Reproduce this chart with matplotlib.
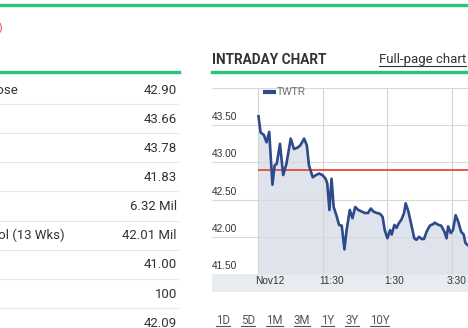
import matplotlib
matplotlib.use('Agg')
import matplotlib.pyplot as plt
from matplotlib.lines import Line2D

# quote table
row_labels = ['Prev Close', '', '', '', '', 'Avg Vol (13 Wks)', '', '', '']
row_values = ['42.90', '43.66', '43.78', '41.83', '6.32 Mil', '42.01 Mil', '41.00', '100', '42.09']

# intraday prices, minutes after 9:30
minutes = [0, 4, 10, 15, 20, 26, 30, 34, 40, 46, 52, 60, 66, 73, 78, 85, 90, 94, 101, 107,
           113, 119, 125, 128, 132, 136, 140, 145, 150, 155, 160, 164, 170, 175, 180, 186,
           192, 198, 204, 209, 214, 220, 226, 231, 235, 240, 245, 248, 253, 257, 261, 266,
           271, 274, 279, 284, 290, 294, 299, 304, 308, 313, 319, 325, 328, 335, 340, 346,
           350, 353, 358, 362, 367, 372, 377, 382, 385, 389]
prices = [43.62, 43.40, 43.37, 43.27, 43.41, 42.70, 42.96, 42.98, 43.25, 42.83, 42.98, 43.32,
          43.18, 43.20, 43.23, 43.32, 43.23, 42.96, 42.80, 42.83, 42.85, 42.83, 42.78, 42.72,
          42.36, 42.78, 42.40, 42.29, 42.16, 42.15, 41.83, 42.09, 42.36, 42.25, 42.40, 42.36,
          42.34, 42.32, 42.32, 42.38, 42.34, 42.32, 42.31, 42.27, 42.09, 41.98, 42.09, 42.03,
          42.16, 42.12, 42.18, 42.23, 42.32, 42.45, 42.34, 42.18, 41.98, 41.96, 42.00, 41.97,
          41.97, 42.07, 42.15, 42.17, 42.19, 42.16, 42.15, 42.07, 41.98, 42.14, 42.05, 42.09,
          42.29, 42.20, 42.07, 42.03, 41.92, 41.89]
prev_close = 42.90
symbol = 'TWTR'

y_ticks = [41.5, 42.0, 42.5, 43.0, 43.5]
grid_levels = [42.0, 42.5, 43.0, 43.5, 44.0]
x_ticks = [0, 120, 240, 360]
x_labels = ['Nov12', '11:30', '1:30', '3:30']
ranges = ['1D', '5D', '1M', '3M', '1Y', '3Y', '10Y']

W, H = 468, 328
GREEN = '#27c47a'
TEXT = '#333333'


def px(x, y):
    return x / W, 1 - y / H


fig = plt.figure(figsize=(W / 100, H / 100), dpi=100)
fig.patch.set_facecolor('white')

# green rules
for x0, x1, y in [(0, W, 5), (0, 179, 72), (212, W, 72)]:
    fig.add_artist(Line2D([x0 / W, x1 / W], [1 - y / H] * 2, color=GREEN, lw=2.4))

fig.text(*px(2, 28), ')', color='#e03a3a', fontsize=7.5, ha='right', va='center', family='Roboto')

# quote table
for i, (lab, val) in enumerate(zip(row_labels, row_values)):
    y = 90 + 29.15 * i
    fig.text(*px(177, y), val, ha='right', va='center', fontsize=9.5, color=TEXT, family='Roboto')
    if lab:
        end = 18 if i == 0 else 65
        fig.text(*px(end, y), lab, ha='right', va='center', fontsize=9.5, color=TEXT, family='Roboto')
for i in range(8):
    y = 103.8 + 29.2 * i
    fig.add_artist(Line2D([0, 178 / W], [1 - y / H] * 2, color='#e6e6e6', lw=0.8))

# header of the chart panel
fig.text(*px(212, 60), 'INTRADAY CHART', ha='left', va='center', fontsize=9.8,
         fontweight='bold', color=TEXT, family='Roboto')
link = fig.text(*px(466, 60), 'Full-page chart', ha='right', va='center', fontsize=9.5,
                color=TEXT, family='Roboto')

# chart
ax = fig.add_axes([212 / W, 1 - 292 / H, (W - 212) / W, (292 - 88) / H])
ymin = 41.5 - 18 / 74.4
ax.set_xlim(-86.5, 390)
ax.set_ylim(ymin, 44.0)
ax.axis('off')

ax.axhspan(ymin, 41.5, color='#e8ebf0', lw=0)
ax.hlines(grid_levels, -86.5, 390, color='#d9d9d9', lw=0.8)
ax.vlines(x_ticks, 41.5, 44.0, color='#d4d4d4', lw=0.8)
ax.fill_between(minutes, prices, 41.5, color='#dfe3eb', lw=0)
ax.hlines(prev_close, 0, 390, color='#e8473f', lw=1.3, zorder=3)
ax.plot(minutes, prices, color='#2d4a8a', lw=1.9, zorder=4)

for t in y_ticks:
    ax.text(-86.5, t + 0.107, f'{t:.2f}', ha='left', va='center', fontsize=7.3,
            color=TEXT, family='Liberation Sans')
for t, lab in zip(x_ticks, x_labels):
    if t == x_ticks[-1]:
        ax.text(387, 41.406, lab, ha='right', va='center', fontsize=7.3,
                color=TEXT, family='Liberation Sans')
    else:
        ax.text(t - 6, 41.406, lab, ha='left', va='center', fontsize=7.3,
                color=TEXT, family='Liberation Sans')

# legend entry
ax.plot([8.4, 32.6], [43.946, 43.946], color='#2d4a8a', lw=3, solid_capstyle='butt')
ax.text(34, 43.946, symbol, ha='left', va='center', fontsize=7.3, color='#666666',
        family='Liberation Sans')

# range links
renderer = fig.canvas.get_renderer()
x = 216
links = []
for r in ranges:
    t = fig.text(*px(x, 320), r, ha='left', va='center', fontsize=8.3, color='#555555',
                 family='Roboto')
    bb = t.get_window_extent(renderer)
    links.append((t, bb))
    x += bb.width + 11

bb = link.get_window_extent(renderer)
links.append((link, bb))
for t, bb in links:
    yb = bb.y0 + 0.5
    fig.add_artist(Line2D([bb.x0 / W, bb.x1 / W], [yb / H] * 2, color=t.get_color(), lw=0.8))

fig.savefig('out.png', dpi=100)
